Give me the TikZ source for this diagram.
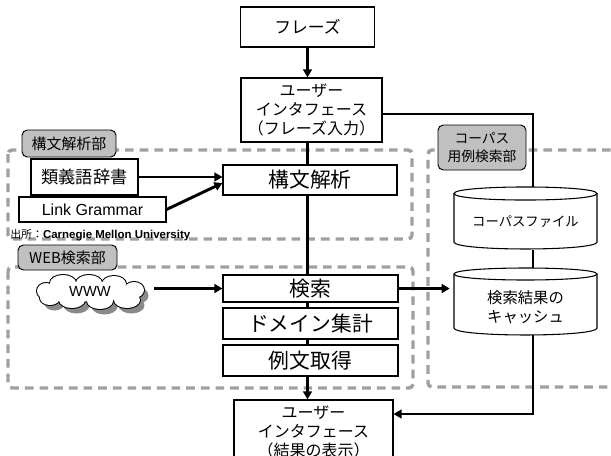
\documentclass[tikz,border=0pt]{standalone}
\usepackage{fontspec}
\setmainfont{Liberation Sans}
\newfontfamily\jp{Noto Sans CJK JP}
\usetikzlibrary{arrows.meta,calc}
\definecolor{grpgray}{HTML}{A0A0A0}
\definecolor{lblgray}{HTML}{C0C0C0}
\definecolor{shgray}{HTML}{8A8A8A}
\def\u{0.75pt}
\def\puffs{46/291/9/8, 63/283/13/8, 89/283/13/8, 114/284/12/8, 134/290/10/8, 127/300/13/8, 100/301/13/8, 72/300/13/8, 50/298/10/7, 90/291.5/44/10}
\begin{document}
\begin{tikzpicture}[x=0.75pt,y=-0.75pt,
  box/.style={draw=black, line width=0.8pt, fill=white, inner sep=0pt, align=center},
  grp/.style={draw=grpgray, line width=2.6pt, dash pattern=on 6.5pt off 4.5pt, rounded corners=3pt},
  lbl/.style={draw=black, line width=0.7pt, fill=lblgray, rounded corners=4pt, inner sep=0pt, align=center},
  conn/.style={line width=2.2pt, draw=black},
  arr/.style={conn, -{Triangle[length=6pt,width=6.5pt]}},
  cyl/.style={draw=black, line width=0.8pt, fill=white},
  big/.style={font={\jp\fontsize{15.6pt}{18pt}\selectfont}},
  ui/.style={font={\jp\fontsize{12pt}{14.2pt}\selectfont}},
]
\useasboundingbox (0,0) rectangle (611,455);
\clip (0,0) rectangle (611,455);

% group frames
\draw[grp] (8,150) rectangle (412,239);
\draw[grp] (8,267) rectangle (413,388);
\draw[grp] (640,150) -- (428,150) -- (428,387) -- (640,387);

% group labels
\node[lbl, minimum width=94*\u, minimum height=27*\u, font={\jp\fontsize{11.2pt}{13pt}\selectfont}] (lblA) at (69,143.5) {構文解析部};
\node[lbl, minimum width=99*\u, minimum height=25*\u, font={\jp\fontsize{11.2pt}{13pt}\selectfont}] (lblB) at (67.5,257.5) {WEB検索部};
\node[lbl, minimum width=88*\u, minimum height=45*\u, font={\jp\fontsize{10.3pt}{13.5pt}\selectfont}] (lblC) at (482,147.5) {コーパス\\用例検索部};

% central boxes
\node[box, minimum width=134*\u, minimum height=40*\u, font={\jp\fontsize{12.6pt}{14pt}\selectfont}] (phrase) at (307.5,27) {フレーズ};
\node[box, ui, minimum width=141*\u, minimum height=64*\u] (ui1) at (311.5,110) {ユーザー\\インタフェース\\（フレーズ入力）};
\node[box, big, minimum width=174*\u, minimum height=30*\u] (kobun) at (310,180) {構文解析};
\node[box, big, minimum width=175*\u, minimum height=27*\u] (kensaku) at (310.5,288.5) {検索};
\node[box, big, minimum width=175*\u, minimum height=31*\u] (domain) at (310.5,323.5) {ドメイン集計};
\node[box, big, minimum width=175*\u, minimum height=31*\u] (reibun) at (310.5,360.5) {例文取得};
\node[box, ui, minimum width=159*\u, minimum height=64*\u] (ui2) at (313.5,432) {ユーザー\\インタフェース\\（結果の表示）};

% left boxes
\node[box, minimum width=107*\u, minimum height=36*\u, font={\jp\fontsize{12.9pt}{15pt}\selectfont}] (syn) at (84.5,177) {類義語辞書};
\node[box, minimum width=147*\u, minimum height=25*\u, font={\fontsize{12pt}{14pt}\selectfont}] (lg) at (92.5,209.5) {Link Grammar};
\node[anchor=west, inner sep=0pt] (src) at (10,235) {{\jp\fontsize{8.2pt}{10pt}\selectfont 出所：}{\bfseries\fontsize{8.6pt}{10pt}\selectfont Carnegie Mellon University}};

% cloud (union of puffs: shadow, outline, white fill)
\foreach \cx/\cy/\rx/\ry in \puffs {\fill[shgray] (\cx+4.5,\cy+5.5) ellipse [x radius=\rx*\u, y radius=\ry*\u];}
\foreach \cx/\cy/\rx/\ry in \puffs {\draw[black, line width=1.5pt] (\cx,\cy) ellipse [x radius=\rx*\u, y radius=\ry*\u];}
\foreach \cx/\cy/\rx/\ry in \puffs {\fill[white] (\cx,\cy) ellipse [x radius=\rx*\u, y radius=\ry*\u];}
\node[inner sep=0pt, minimum width=110*\u, minimum height=33*\u, font={\fontsize{11pt}{13pt}\selectfont}] (www) at (90,291.5) {WWW};

% cylinders (drawn shapes) with named text nodes
\draw[cyl] (454,193.5) -- (454,242) .. controls (454,251.3) and (597,251.3) .. (597,242) -- (597,193.5);
\draw[cyl] (454,193.5) .. controls (454,184.8) and (597,184.8) .. (597,193.5) .. controls (597,202.2) and (454,202.2) .. (454,193.5) -- cycle;
\node[inner sep=0pt, minimum width=143*\u, minimum height=63*\u, font={\jp\fontsize{10pt}{12pt}\selectfont}] (corpus) at (525.5,222) {コーパスファイル};

\draw[cyl] (454,274) -- (454,328) .. controls (454,337.3) and (597,337.3) .. (597,328) -- (597,274);
\draw[cyl] (454,274) .. controls (454,266) and (597,266) .. (597,274) .. controls (597,282) and (454,282) .. (454,274) -- cycle;
\node[inner sep=0pt, minimum width=143*\u, minimum height=67*\u, align=center, font={\jp\fontsize{11.5pt}{14.2pt}\selectfont}] (cache) at (525.5,307.5) {検索結果の\\キャッシュ};

\coordinate (cfTop) at (533,187);
\coordinate (cfBot) at (533,250);
\coordinate (caTop) at (533,268);
\coordinate (caBot) at (533,335);

% connectors
\draw[arr] (phrase.south) -- (phrase.south |- ui1.north);
\draw[conn] (ui1.south -| phrase.south) -- (kobun.north -| phrase.south);
\draw[conn] (kobun.south -| phrase.south) -- (kensaku.north -| phrase.south);
\draw[conn] (kensaku.south -| phrase.south) -- (domain.north -| phrase.south);
\draw[conn] (domain.south -| phrase.south) -- (reibun.north -| phrase.south);
\draw[arr] (reibun.south -| phrase.south) -- (ui2.north -| phrase.south);

\draw[arr] (syn.east) -- (syn.east -| kobun.west);
\draw[arr] (lg.east) -- ($(kobun.west)+(0,3)$);

\draw[arr, shorten <=9*\u] (www.east |- kensaku.west) -- (kensaku.west);
\draw[arr, shorten >=4*\u] (kensaku.east) -- (kensaku.east -| cache.west);

\draw[conn] ($(ui1.east)+(0,4)$) -| (cfTop);
\draw[conn] (cfBot) -- (caTop);
\draw[arr] (caBot) |- ($(ui2.east)+(0,-18)$);
\end{tikzpicture}
\end{document}
